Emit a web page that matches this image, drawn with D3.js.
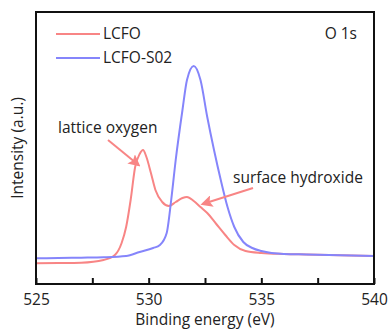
<!DOCTYPE html>
<html>
<head>
<meta charset="utf-8">
<script src="https://cdn.jsdelivr.net/npm/d3@7"></script>
<style>
  body { margin: 0; background: #fff; }
  text { font-family: "Open Sans", sans-serif; fill: #222; }
</style>
</head>
<body>
<div id="chart"></div>
<script>
// binding energy (eV) and intensity (a.u.)
var lcfoEnergy = [525, 526, 527, 528, 528.5, 528.8, 529.0, 529.2, 529.4, 529.6, 529.75, 529.9, 530.1, 530.3, 530.6, 530.9, 531.2, 531.5, 531.7, 532.0, 532.3, 532.6, 533.0, 533.4, 533.8, 534.3, 535, 536, 537, 538, 539, 540];
var lcfoIntensity = [20.7, 20.9, 21.3, 24, 29, 41, 57, 84, 117, 130, 134, 127, 111, 94, 82, 78, 82, 86, 87, 83, 77, 71, 60, 49, 39, 33, 31, 30, 29.5, 29, 28.5, 28];

var s02Energy = [525, 526, 527, 528, 529, 529.6, 530.2, 530.5, 530.8, 531.0, 531.2, 531.5, 531.7, 532.0, 532.3, 532.6, 532.9, 533.2, 533.5, 533.8, 534.2, 534.6, 535, 536, 537, 538, 539, 540];
var s02Intensity = [25.7, 26, 26.3, 26.7, 28, 32, 36, 39, 51, 84, 124, 174, 204, 218, 204, 167, 134, 104, 77, 57, 42, 36, 33, 30, 29.5, 29, 28.5, 28];

var xTicks = [525, 530, 535, 540];
var xMinor = [527.5, 532.5, 537.5];

var seriesNames = ["LCFO", "LCFO-S02"];
var colors = ["#f88585", "#8585fb"];

var width = 389, height = 331;
var margin = {top: 12, right: 15, bottom: 47, left: 36};

var svg = d3.select("#chart").append("svg")
    .attr("width", width)
    .attr("height", height);

var x = d3.scaleLinear().domain([525, 540]).range([margin.left, width - margin.right]);
var y = d3.scaleLinear().domain([0, 272]).range([height - margin.bottom, margin.top]);

var line = d3.line()
    .x(function(d) { return x(d[0]); })
    .y(function(d) { return y(d[1]); })
    .curve(d3.curveMonotoneX);

var series = [d3.zip(lcfoEnergy, lcfoIntensity), d3.zip(s02Energy, s02Intensity)];

// clip so lines stay in the frame
svg.append("clipPath").attr("id", "clip")
  .append("rect")
    .attr("x", margin.left).attr("y", margin.top)
    .attr("width", x(540) - x(525)).attr("height", y(0) - y(272));

svg.append("g").attr("clip-path", "url(#clip)")
  .selectAll("path")
  .data(series)
  .enter().append("path")
    .attr("d", line)
    .attr("fill", "none")
    .attr("stroke", function(d, i) { return colors[i]; })
    .attr("stroke-width", 2);

// bottom axis, ticks pointing inward
var xAxis = svg.append("g")
    .attr("transform", "translate(0," + y(0) + ")")
    .call(d3.axisBottom(x).tickValues(xTicks.concat(xMinor)).tickSize(-6).tickPadding(10)
      .tickFormat(function(d) { return xTicks.indexOf(d) >= 0 ? d : ""; }));
xAxis.select(".domain").remove();
xAxis.selectAll("line").attr("stroke", "#111").attr("stroke-width", 2);
xAxis.selectAll("text").attr("font-size", 15.5).attr("font-family", "Open Sans, sans-serif").attr("fill", "#222");

// frame
svg.append("rect")
    .attr("x", margin.left).attr("y", margin.top)
    .attr("width", x(540) - x(525)).attr("height", y(0) - y(272))
    .attr("fill", "none")
    .attr("stroke", "#111")
    .attr("stroke-width", 2);

// axis titles
svg.append("text")
    .attr("x", (x(525) + x(540)) / 2)
    .attr("y", 325)
    .attr("text-anchor", "middle")
    .attr("font-size", 15.5)
    .text("Binding energy (eV)");

svg.append("text")
    .attr("transform", "translate(23,148) rotate(-90)")
    .attr("text-anchor", "middle")
    .attr("font-size", 15.5)
    .text("Intensity (a.u.)");

// legend
var legend = svg.append("g");
seriesNames.forEach(function(name, i) {
  var ly = 34 + i * 24;
  legend.append("line")
      .attr("x1", 56).attr("x2", 100)
      .attr("y1", ly).attr("y2", ly)
      .attr("stroke", colors[i]).attr("stroke-width", 2);
  legend.append("text")
      .attr("x", 103).attr("y", ly + 5)
      .attr("font-size", 15.5)
      .text(name);
});

svg.append("text")
    .attr("x", 357).attr("y", 39)
    .attr("text-anchor", "end")
    .attr("font-size", 15.5)
    .text("O 1s");

// annotations with arrows
svg.append("defs").append("marker")
    .attr("id", "arrow")
    .attr("viewBox", "0 0 10 10")
    .attr("refX", 8).attr("refY", 5)
    .attr("markerWidth", 6).attr("markerHeight", 6)
    .attr("orient", "auto")
  .append("path")
    .attr("d", "M0,0 L10,5 L0,10 L2,5 z")
    .attr("fill", colors[0]);

svg.append("text")
    .attr("x", 58).attr("y", 133)
    .attr("font-size", 15.5)
    .text("lattice oxygen");

svg.append("line")
    .attr("x1", 108).attr("y1", 140)
    .attr("x2", x(529.55)).attr("y2", 165)
    .attr("stroke", colors[0]).attr("stroke-width", 2)
    .attr("marker-end", "url(#arrow)");

svg.append("text")
    .attr("x", 233).attr("y", 183)
    .attr("font-size", 15.5)
    .text("surface hydroxide");

svg.append("line")
    .attr("x1", 253).attr("y1", 188)
    .attr("x2", x(532.4)).attr("y2", 204)
    .attr("stroke", colors[0]).attr("stroke-width", 2)
    .attr("marker-end", "url(#arrow)");
</script>
</body>
</html>
